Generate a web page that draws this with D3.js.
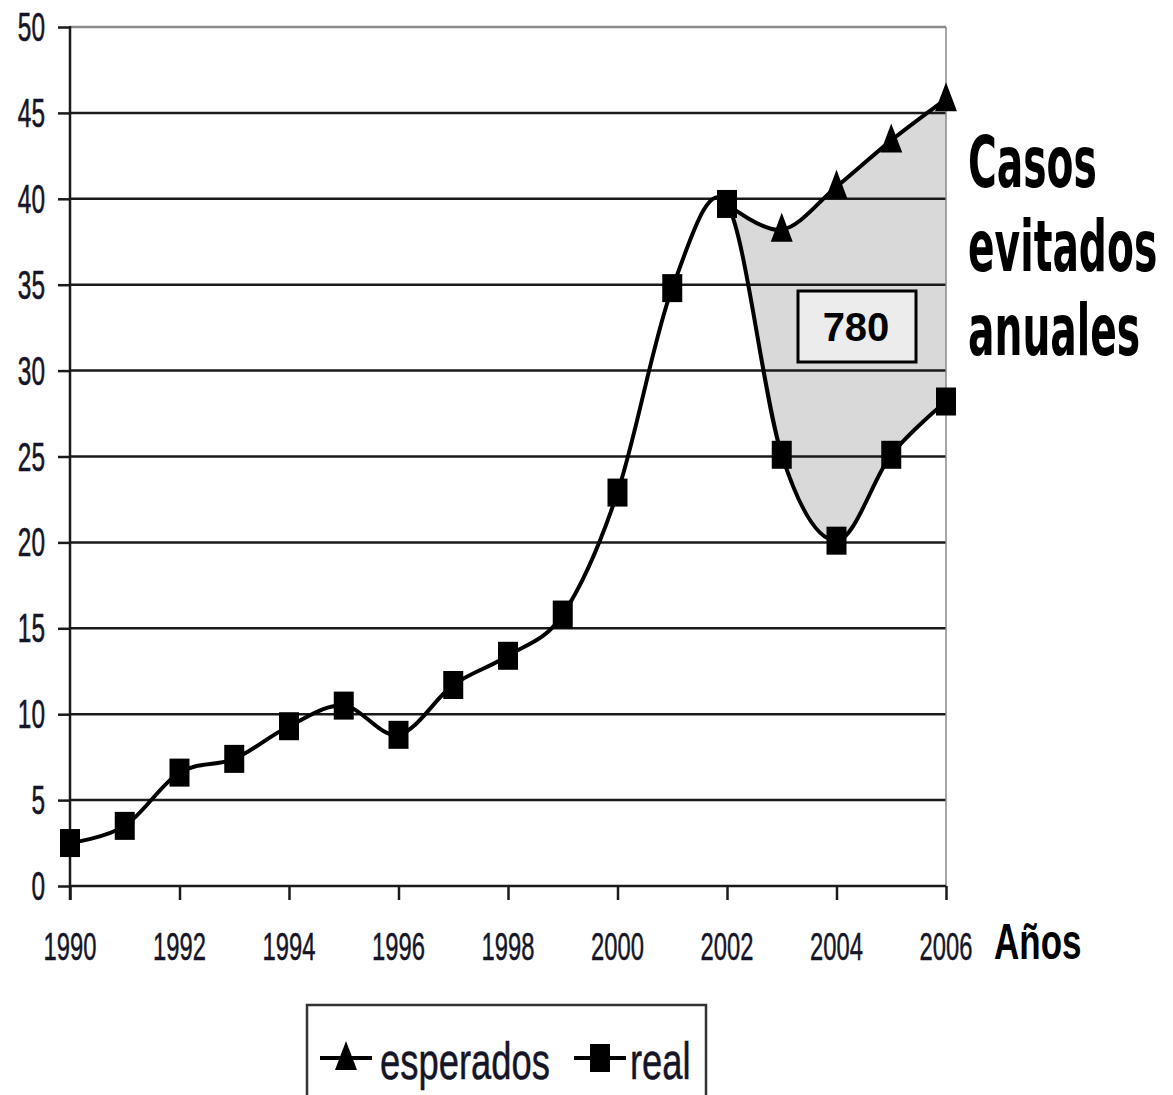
<!DOCTYPE html>
<html>
<head>
<meta charset="utf-8">
<script src="https://cdn.jsdelivr.net/npm/d3@7"></script>
<style>
  body { margin: 0; background: #fff; }
  text { font-family: "Liberation Sans", Arial, sans-serif; }
</style>
</head>
<body>
<div id="plot"></div>
<script>
// all the data
const years = [1990, 1991, 1992, 1993, 1994, 1995, 1996, 1997, 1998, 1999, 2000, 2001, 2002, 2003, 2004, 2005, 2006];
const real = [2.5, 3.5, 6.6, 7.4, 9.3, 10.5, 8.8, 11.7, 13.4, 15.8, 22.9, 34.8, 39.7, 25.1, 20.1, 25.1, 28.2];
const espYears = [2002, 2003, 2004, 2005, 2006];
const esperados = [39.7, 38.2, 40.7, 43.4, 45.8];
const yTicks = [0, 5, 10, 15, 20, 25, 30, 35, 40, 45, 50];
const xTicks = [1990, 1992, 1994, 1996, 1998, 2000, 2002, 2004, 2006];
const sideLabel = ['Casos', 'evitados', 'anuales'];
const boxLabel = '780';
const xTitle = 'Años';
const legendNames = ['esperados', 'real'];

const width = 1173;
const height = 1095;
const narrow = 0.61;  // squeeze text like the condensed source font

const x = d3.scaleLinear()
  .domain([1990, 2006])
  .range([70, 946]);

const y = d3.scaleLinear()
  .domain([0, 50])
  .range([886, 27]);

const svg = d3.select('#plot')
  .append('svg')
  .attr('width', width)
  .attr('height', height);

const realPts = years.map((d, i) => [d, real[i]]);
const espPts = espYears.map((d, i) => [d, esperados[i]]);

const curve = d3.curveCardinal.tension(0);

// gray region: under esperados, then wipe out what lies under real
svg.append('path')
  .datum(espPts)
  .attr('fill', '#d9d9d9')
  .attr('d', d3.area().curve(curve)
    .x(d => x(d[0]))
    .y0(y(0))
    .y1(d => y(d[1])));

svg.append('path')
  .datum(realPts)
  .attr('fill', '#fff')
  .attr('d', d3.area().curve(curve)
    .x(d => x(d[0]))
    .y0(y(0) + 2)
    .y1(d => y(d[1])));

// gridlines
svg.append('g')
  .selectAll('line')
  .data(yTicks.filter(d => d > 0))
  .enter()
  .append('line')
  .attr('x1', x(1990))
  .attr('x2', x(2006))
  .attr('y1', d => y(d))
  .attr('y2', d => y(d))
  .attr('stroke', d => d === 50 ? '#8a8a8a' : '#1a1a1a')
  .attr('stroke-width', 2.5);

// right border
svg.append('line')
  .attr('x1', x(2006)).attr('x2', x(2006))
  .attr('y1', y(50)).attr('y2', y(0))
  .attr('stroke', '#8a8a8a')
  .attr('stroke-width', 1.5);

// y axis
const yAxis = svg.append('g')
  .attr('transform', `translate(${x(1990)},0)`)
  .call(d3.axisLeft(y).tickValues(yTicks).tickSize(12).tickFormat(''));
yAxis.select('.domain').remove();
yAxis.selectAll('.tick line').attr('stroke', '#1a1a1a').attr('stroke-width', 2.5);
yAxis.append('line')
  .attr('x1', 0).attr('x2', 0)
  .attr('y1', y(50) - 1).attr('y2', y(0) + 14)
  .attr('stroke', '#1a1a1a')
  .attr('stroke-width', 2.5);

svg.append('g')
  .selectAll('text')
  .data(yTicks)
  .enter()
  .append('text')
  .attr('transform', d => `translate(45,${y(d) + 14}) scale(${narrow},1)`)
  .attr('text-anchor', 'end')
  .attr('font-size', 40)
  .attr('fill', '#151528')
  .attr('stroke', '#151528')
  .attr('stroke-width', 0.6)
  .text(d => d);

// x axis
const xAxis = svg.append('g')
  .attr('transform', `translate(0,${y(0)})`)
  .call(d3.axisBottom(x).tickValues(xTicks).tickSize(14).tickFormat(''));
xAxis.select('.domain').attr('stroke', '#1a1a1a').attr('stroke-width', 2.5).attr('d', `M${x(1990)},0H${x(2006)}`);
xAxis.selectAll('.tick line').attr('stroke', '#1a1a1a').attr('stroke-width', 2.5);

svg.append('g')
  .selectAll('text')
  .data(xTicks)
  .enter()
  .append('text')
  .attr('transform', d => `translate(${x(d)},960) scale(${narrow},1)`)
  .attr('text-anchor', 'middle')
  .attr('font-size', 39)
  .attr('fill', '#151528')
  .attr('stroke', '#151528')
  .attr('stroke-width', 0.5)
  .text(d => d);

svg.append('text')
  .attr('transform', `translate(994,959) scale(0.7,1)`)
  .attr('font-size', 50)
  .attr('font-weight', 'bold')
  .attr('fill', '#000')
  .text(xTitle);

// lines
const line = d3.line().curve(curve)
  .x(d => x(d[0]))
  .y(d => y(d[1]));

svg.append('path')
  .datum(espPts)
  .attr('fill', 'none')
  .attr('stroke', '#000')
  .attr('stroke-width', 4)
  .attr('d', line);

svg.append('path')
  .datum(realPts)
  .attr('fill', 'none')
  .attr('stroke', '#000')
  .attr('stroke-width', 4)
  .attr('d', line);

// markers
const sqW = 20, sqH = 28;
svg.append('g')
  .selectAll('rect')
  .data(realPts)
  .enter()
  .append('rect')
  .attr('x', d => x(d[0]) - sqW / 2)
  .attr('y', d => y(d[1]) - sqH / 2)
  .attr('width', sqW)
  .attr('height', sqH)
  .attr('fill', '#000');

function triangle(cx, cy) {
  return `M${cx},${cy - 17}L${cx + 11},${cy + 12}L${cx - 11},${cy + 12}Z`;
}

svg.append('g')
  .selectAll('path')
  .data(espPts.slice(1))
  .enter()
  .append('path')
  .attr('d', d => triangle(x(d[0]), y(d[1])))
  .attr('fill', '#000');

// value box
svg.append('rect')
  .attr('x', 798).attr('y', 291)
  .attr('width', 118).attr('height', 71)
  .attr('fill', '#ececec')
  .attr('stroke', '#000')
  .attr('stroke-width', 3);

svg.append('text')
  .attr('x', 856).attr('y', 341)
  .attr('text-anchor', 'middle')
  .attr('font-size', 40)
  .attr('font-weight', 'bold')
  .attr('fill', '#000')
  .text(boxLabel);

// side label
svg.append('g')
  .selectAll('text')
  .data(sideLabel)
  .enter()
  .append('text')
  .attr('transform', (d, i) => `translate(968,${187 + i * 84}) scale(0.545,1)`)
  .style('font-family', '"DejaVu Sans", sans-serif')
  .attr('font-size', 72)
  .attr('font-weight', 'bold')
  .attr('fill', '#000')
  .text(d => d);

// legend
svg.append('rect')
  .attr('x', 307).attr('y', 1005)
  .attr('width', 399).attr('height', 110)
  .attr('fill', '#fff')
  .attr('stroke', '#333')
  .attr('stroke-width', 2.5);

const legY = 1058;
svg.append('line')
  .attr('x1', 320).attr('x2', 372)
  .attr('y1', legY).attr('y2', legY)
  .attr('stroke', '#000').attr('stroke-width', 4);
svg.append('path')
  .attr('d', triangle(346, legY))
  .attr('fill', '#000');
svg.append('line')
  .attr('x1', 574).attr('x2', 626)
  .attr('y1', legY).attr('y2', legY)
  .attr('stroke', '#000').attr('stroke-width', 4);
svg.append('rect')
  .attr('x', 600 - sqW / 2).attr('y', legY - sqH / 2)
  .attr('width', sqW).attr('height', sqH)
  .attr('fill', '#000');

svg.append('g')
  .selectAll('text')
  .data(legendNames)
  .enter()
  .append('text')
  .attr('transform', (d, i) => `translate(${i === 0 ? 380 : 630},1079) scale(0.7,1)`)
  .attr('font-size', 52)
  .attr('fill', '#151528')
  .attr('stroke', '#151528')
  .attr('stroke-width', 0.5)
  .text(d => d);
</script>
</body>
</html>
